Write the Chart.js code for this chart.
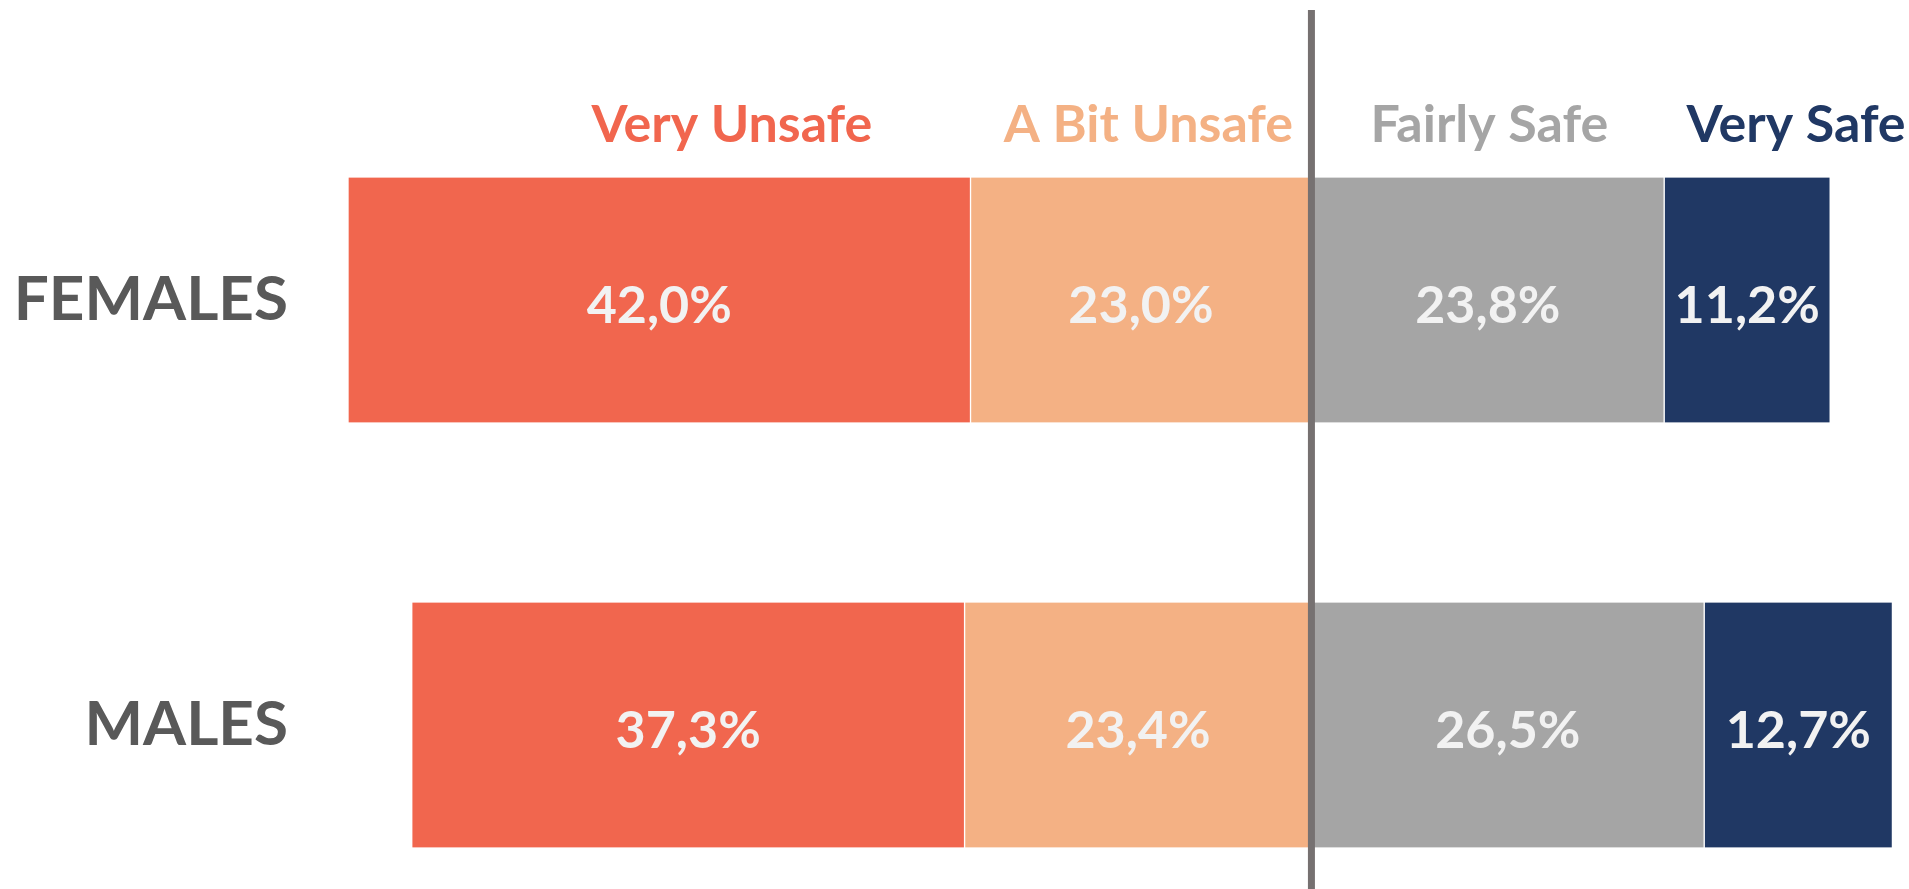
<!DOCTYPE html>
<html lang="en">
<head>
    <meta charset="UTF-8">
    <title>Safety perception by gender</title>
    <script src="https://cdn.jsdelivr.net/npm/chart.js"></script>
    <style>
        body { margin: 0; background: #fff; }
    </style>
</head>
<body>

<div style="width: 1909px; height: 889px; position: relative;">
    <canvas id="safetyChart"></canvas>
</div>

<script>
    // data (percent)
    const groups = ['FEMALES', 'MALES'];
    const answers = ['Very Unsafe', 'A Bit Unsafe', 'Fairly Safe', 'Very Safe'];
    const veryUnsafe = [42.0, 37.3];
    const bitUnsafe = [23.0, 23.4];
    const fairlySafe = [23.8, 26.5];
    const verySafe = [11.2, 12.7];

    const colors = {
        'Very Unsafe': '#F1664E',
        'A Bit Unsafe': '#F4B184',
        'Fairly Safe': '#A5A5A5',
        'Very Safe': '#203864'
    };

    // header label centres, in axis units
    const headerAt = {
        'Very Unsafe': -39.1,
        'A Bit Unsafe': -11.0,
        'Fairly Safe': 12.0,
        'Very Safe': 32.7
    };

    const fontFamily = 'Lato, "Open Sans", sans-serif';

    function fmt(v) {
        return Math.abs(v).toFixed(1).replace('.', ',') + '%';
    }

    function makeSet(label, values, negative) {
        return {
            label: label,
            data: values.map(v => negative ? -v : v),
            backgroundColor: colors[label],
            borderColor: '#ffffff',
            borderWidth: { left: 1, right: 1, top: 0, bottom: 0 },
            borderSkipped: false,
            barThickness: 245,
            clip: false
        };
    }

    // unsafe answers go left of zero; the one closest to zero comes first
    const datasets = [
        makeSet('A Bit Unsafe', bitUnsafe, true),
        makeSet('Very Unsafe', veryUnsafe, true),
        makeSet('Fairly Safe', fairlySafe, false),
        makeSet('Very Safe', verySafe, false)
    ];

    // values inside the bars, headers above, divider on zero
    const decorations = {
        id: 'decorations',
        afterDatasetsDraw(chart) {
            const { ctx, scales } = chart;
            ctx.save();

            ctx.font = 'bold 52px ' + fontFamily;
            ctx.fillStyle = '#F2F2F2';
            ctx.textAlign = 'center';
            ctx.textBaseline = 'middle';
            chart.data.datasets.forEach((ds, i) => {
                chart.getDatasetMeta(i).data.forEach((bar, j) => {
                    const p = bar.getCenterPoint();
                    ctx.fillText(fmt(ds.data[j]), p.x, p.y + 6);
                });
            });

            const firstBar = chart.getDatasetMeta(0).data[0];
            const headerY = firstBar.y - firstBar.height / 2 - 36;
            ctx.textBaseline = 'alphabetic';
            answers.forEach(a => {
                ctx.fillStyle = colors[a];
                ctx.fillText(a, scales.x.getPixelForValue(headerAt[a]), headerY);
            });

            const zx = scales.x.getPixelForValue(0);
            ctx.strokeStyle = '#767171';
            ctx.lineWidth = 7;
            ctx.beginPath();
            ctx.moveTo(zx, 10);
            ctx.lineTo(zx, chart.height);
            ctx.stroke();

            ctx.restore();
        }
    };

    new Chart(document.getElementById('safetyChart'), {
        type: 'bar',
        data: {
            labels: groups,
            datasets: datasets
        },
        options: {
            indexAxis: 'y',
            responsive: true,
            maintainAspectRatio: false,
            animation: false,
            layout: {
                padding: { top: 300, bottom: 164, left: 0, right: 21 }
            },
            scales: {
                x: {
                    stacked: true,
                    display: false,
                    min: -65,
                    max: 38.9
                },
                y: {
                    stacked: true,
                    offset: false,
                    grid: { display: false },
                    border: { display: false },
                    ticks: {
                        padding: 52,
                        color: '#595959',
                        font: { family: fontFamily, size: 62, weight: 'bold' }
                    },
                    afterFit(scale) {
                        scale.width = 348;
                    }
                }
            },
            plugins: {
                legend: { display: false },
                tooltip: { enabled: false }
            }
        },
        plugins: [decorations]
    });
</script>

</body>
</html>
